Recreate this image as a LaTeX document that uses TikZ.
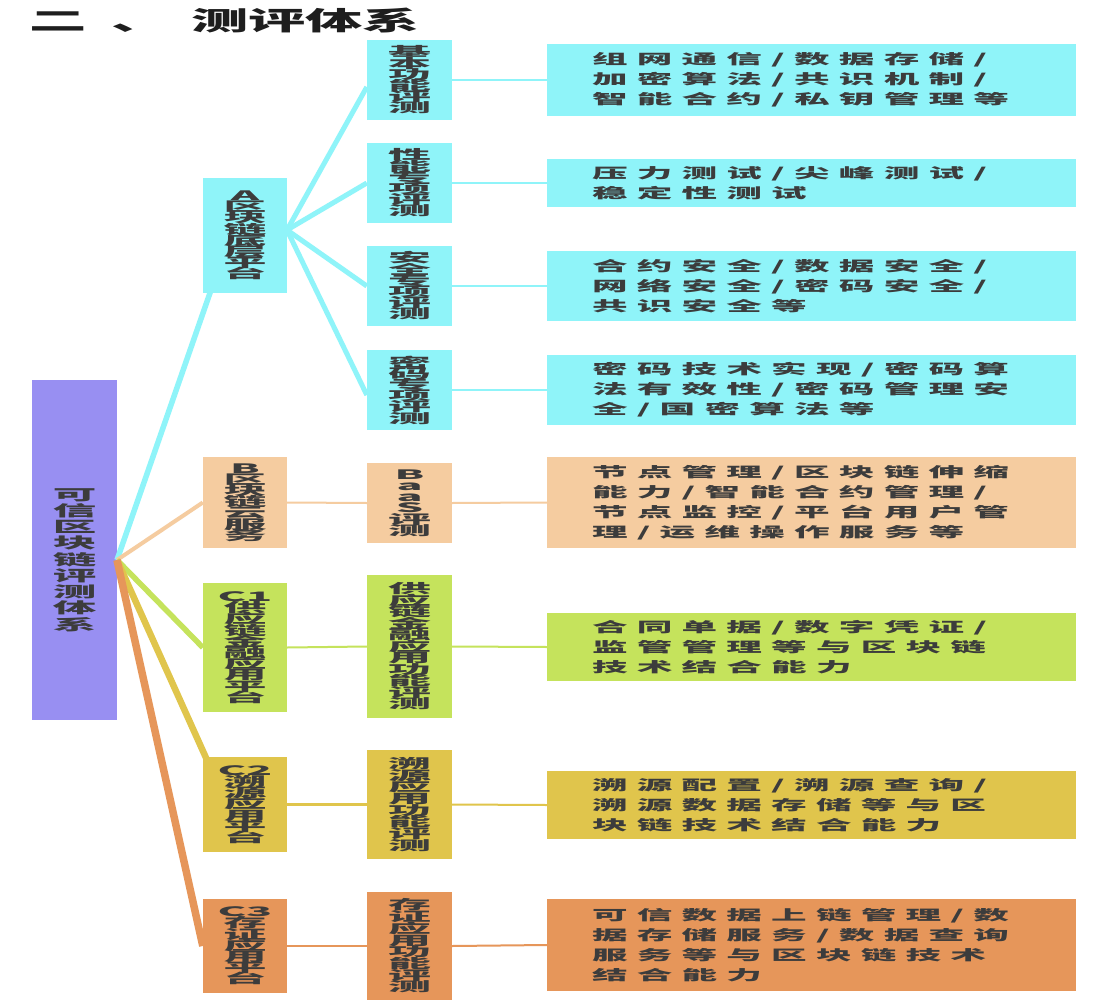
\documentclass[tikz,border=0pt]{standalone}
\usepackage{fontspec}
\usepackage{graphicx}
\usetikzlibrary{calc}
\setmainfont{Noto Sans CJK SC}
\newfontfamily\cjkR[LetterSpace=26]{Noto Sans CJK SC}
\newcommand\vstk[3]{\scalebox{#1}[1]{\vbox{\baselineskip=#2\lineskiplimit=-100pt\lineskip=0pt\halign{\hfil##\hfil\cr#3\crcr}}}}
\newcommand\lstk[3]{\scalebox{#1}[1]{\vbox{\baselineskip=#2\lineskiplimit=-100pt\lineskip=0pt\halign{##\hfil\cr#3\crcr}}}}
\newcommand\lone[1]{\vstk{3.3}{11.2pt}{#1}}
\newcommand\ltwo[2][11.5pt]{\vstk{3.3}{#1}{#2}}
\newcommand\rtxt[1]{\noindent\lstk{2.54}{20pt}{#1}}
\definecolor{ccyan}{RGB}{143,244,249}
\definecolor{cpeach}{RGB}{245,204,160}
\definecolor{cgreen}{RGB}{197,227,92}
\definecolor{cmust}{RGB}{224,197,76}
\definecolor{corange}{RGB}{230,150,90}
\definecolor{cpurple}{RGB}{152,143,242}
\definecolor{tgray}{RGB}{60,60,60}
\tikzset{
  box/.style={rectangle, inner sep=0pt, text=tgray, font=\bfseries\fontsize{13}{13}\selectfont},
  lvone/.style={box, minimum width=84pt},
  lvtwo/.style={box, minimum width=85pt},
  rbox/.style={rectangle, minimum width=529pt, inner ysep=0pt, inner xsep=45pt, text width=439pt,
     align=left, text=tgray, font=\cjkR\bfseries\fontsize{14}{20}\selectfont},
  thin1/.style={line width=2pt},
}
\begin{document}
\begin{tikzpicture}[x=1pt,y=-1pt]
\useasboundingbox (0,0) rectangle (1108,1006);
\fill[white] (0,0) rectangle (1108,1006);

% title
\node[anchor=west, inner sep=0pt, text={rgb,255:red,30;green,30;blue,30},
  font=\bfseries\fontsize{26}{26}\selectfont] (title) at (29,21)
  {\scalebox{2.2}[1]{二\hspace{11.4pt}、\hspace{10.3pt}测评体系}};

% root
\node[rectangle, fill=cpurple, minimum width=85pt, minimum height=340pt, inner sep=0pt] (root) at (74.5,550) {};
\node[box, font=\bfseries\fontsize{15}{15}\selectfont] (roottxt) at (74.5,560)
  {\vstk{2.9}{16.25pt}{可\cr 信\cr 区\cr 块\cr 链\cr 评\cr 测\cr 体\cr 系}};
\coordinate (rj) at (117,560);

% level-1 box positions
\path (245,235.5) node[lvone, minimum height=115pt] (A) {};
\path (245,502.5) node[lvone, minimum height=91pt] (B) {};
\path (245,647.5) node[lvone, minimum height=129pt] (C1) {};
\path (245,804.5) node[lvone, minimum height=95pt] (C2) {};
\path (245,946) node[lvone, minimum height=94pt] (C3) {};

% connectors root -> level 1
\draw[ccyan, line width=5.5pt] (rj) -- ($(A.center)+(-15,0)$);
\draw[cpeach, line width=4pt] (rj) -- (B.west);
\draw[cgreen, line width=5.5pt] (rj) -- (C1.west);
\draw[cmust, line width=6.5pt] (rj) -- ($(C2.center)+(-18,0)$);
\draw[corange, line width=7.5pt] (rj) -- (C3.west);

% level-2 boxes
\node[lvtwo, fill=ccyan, minimum height=80pt] (a1) at (409.5,80) {\ltwo[11.2pt]{基\cr 本\cr 功\cr 能\cr 评\cr 测}};
\node[lvtwo, fill=ccyan, minimum height=80pt] (a2) at (409.5,183) {\ltwo[11.2pt]{性\cr 能\cr 专\cr 项\cr 评\cr 测}};
\node[lvtwo, fill=ccyan, minimum height=80pt] (a3) at (409.5,286) {\ltwo[11.2pt]{安\cr 全\cr 专\cr 项\cr 评\cr 测}};
\node[lvtwo, fill=ccyan, minimum height=80pt] (a4) at (409.5,390) {\ltwo[11.2pt]{密\cr 码\cr 专\cr 项\cr 评\cr 测}};
\node[lvtwo, fill=cpeach, minimum height=80pt] (b2) at (409.5,503) {\ltwo[11.2pt]{B\cr a\cr a\cr S\cr 评\cr 测}};
\node[lvtwo, fill=cgreen, minimum height=143pt] (c12) at (409.5,646.5) {\ltwo{供\cr 应\cr 链\cr 金\cr 融\cr 应\cr 用\cr 功\cr 能\cr 评\cr 测}};
\node[lvtwo, fill=cmust, minimum height=109pt] (c22) at (409.5,804.5) {\ltwo[11.7pt]{溯\cr 源\cr 应\cr 用\cr 功\cr 能\cr 评\cr 测}};
\node[lvtwo, fill=corange, minimum height=108pt] (c32) at (409.5,946) {\ltwo[11.7pt]{存\cr 证\cr 应\cr 用\cr 功\cr 能\cr 评\cr 测}};

% A -> children, level 1 -> level 2
\coordinate (aj) at (287,230);
\draw[ccyan, line width=5pt] (aj) -- ($(a1.west)+(0,7)$);
\draw[ccyan, line width=5pt] (aj) -- (a2.west);
\draw[ccyan, line width=5pt] (aj) -- (a3.west);
\draw[ccyan, line width=5pt] (aj) -- ($(a4.west)+(0,5)$);
\draw[cpeach, thin1] (B.east) -- (b2.west);
\draw[cgreen, thin1] (C1.east) -- (c12.west);
\draw[cmust, line width=2.5pt] (C2.east) -- (c22.west);
\draw[corange, line width=2.5pt] (C3.east) -- (c32.west);

% level-1 boxes filled on top
\node[lvone, fill=ccyan, minimum height=115pt] at (A) {\lone{A\cr 区\cr 块\cr 链\cr 底\cr 层\cr 平\cr 台}};
\node[lvone, fill=cpeach, minimum height=91pt] at (B) {\lone{B\cr 区\cr 块\cr 链\cr 云\cr 服\cr 务}};
\node[lvone, fill=cgreen, minimum height=129pt] at (C1) {\lone{C1\cr 供\cr 应\cr 链\cr 金\cr 融\cr 应\cr 用\cr 平\cr 台}};
\node[lvone, fill=cmust, minimum height=95pt] at (C2) {\lone{C2\cr 溯\cr 源\cr 应\cr 用\cr 平\cr 台}};
\node[lvone, fill=corange, minimum height=94pt] at (C3) {\lone{C3\cr 存\cr 证\cr 应\cr 用\cr 平\cr 台}};

% right boxes
\node[rbox, fill=ccyan, minimum height=72pt] (r1) at (811.5,80) {\rtxt{组网通信/数据存储/\cr 加密算法/共识机制/\cr 智能合约/私钥管理等}};
\node[rbox, fill=ccyan, minimum height=48pt] (r2) at (811.5,183) {\rtxt{压力测试/尖峰测试/\cr 稳定性测试}};
\node[rbox, fill=ccyan, minimum height=70pt] (r3) at (811.5,286) {\rtxt{合约安全/数据安全/\cr 网络安全/密码安全/\cr 共识安全等}};
\node[rbox, fill=ccyan, minimum height=70pt] (r4) at (811.5,390) {\rtxt{密码技术实现/密码算\cr 法有效性/密码管理安\cr 全/国密算法等}};
\node[rbox, fill=cpeach, minimum height=91pt] (rb) at (811.5,502.5) {\rtxt{节点管理/区块链伸缩\cr 能力/智能合约管理/\cr 节点监控/平台用户管\cr 理/运维操作服务等}};
\node[rbox, fill=cgreen, minimum height=68pt] (rc1) at (811.5,647) {\rtxt{合同单据/数字凭证/\cr 监管管理等与区块链\cr 技术结合能力}};
\node[rbox, fill=cmust, minimum height=68pt] (rc2) at (811.5,805) {\rtxt{溯源配置/溯源查询/\cr 溯源数据存储等与区\cr 块链技术结合能力}};
\node[rbox, fill=corange, minimum height=92pt] (rc3) at (811.5,945) {\rtxt{可信数据上链管理/数\cr 据存储服务/数据查询\cr 服务等与区块链技术\cr 结合能力}};

% level-2 -> right
\draw[ccyan, thin1] (a1.east) -- (r1.west);
\draw[ccyan, thin1] (a2.east) -- (r2.west);
\draw[ccyan, thin1] (a3.east) -- (r3.west);
\draw[ccyan, thin1] (a4.east) -- (r4.west);
\draw[cpeach, thin1] (b2.east) -- (rb.west);
\draw[cgreen, thin1] (c12.east) -- (rc1.west);
\draw[cmust, thin1] (c22.east) -- (rc2.west);
\draw[corange, thin1] (c32.east) -- (rc3.west);
\end{tikzpicture}
\end{document}
